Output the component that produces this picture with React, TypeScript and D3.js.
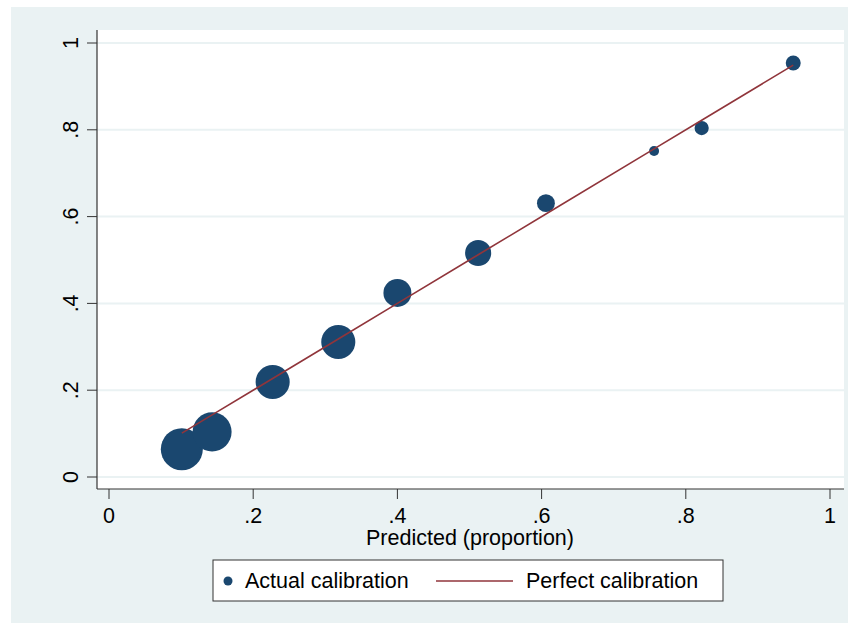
import React from 'react';
import * as d3 from 'd3';

// calibration groups (deciles)
const predicted = [0.101, 0.143, 0.227, 0.318, 0.4, 0.512, 0.606, 0.756, 0.822, 0.949];
const observed = [0.064, 0.104, 0.219, 0.311, 0.424, 0.516, 0.631, 0.751, 0.804, 0.954];
const groupSize = [440, 380, 290, 290, 195, 170, 80, 25, 50, 56];

const xTicks = [0, 0.2, 0.4, 0.6, 0.8, 1];
const yTicks = [0, 0.2, 0.4, 0.6, 0.8, 1];
const fmt = (v: number) => (v === 0 ? '0' : v === 1 ? '1' : String(v).replace(/^0/, ''));

const W = 849;
const H = 623;
const plot = { left: 97, right: 844, top: 30, bottom: 489 };
const navy = '#1a476f';
const cranberry = '#90353b';
const bg = '#eaf2f3';
const font = '"Liberation Sans", Arial, sans-serif';
const fs = 21.5;

export default function App() {
  const x = d3.scaleLinear().domain([0, 1]).range([109, 830]);
  const y = d3.scaleLinear().domain([0, 1]).range([477, 43]);
  const r = d3.scaleSqrt().domain([0, 440]).range([0, 21]);

  const pts = predicted.map((p, i) => ({ p, o: observed[i], n: groupSize[i] }));
  const line = d3.line<{ p: number }>()
    .x(d => x(d.p))
    .y(d => y(d.p));

  return (
    <svg width={W} height={H} style={{ position: 'absolute', left: 0, top: 0, fontFamily: font }}>
      <rect x={0} y={0} width={W} height={H} fill="#ffffff" />
      <rect x={11} y={7} width={W - 12} height={H - 7} fill={bg} />
      <rect x={plot.left} y={plot.top} width={plot.right - plot.left} height={plot.bottom - plot.top} fill="#ffffff" />

      {/* gridlines */}
      {yTicks.map(t => (
        <line key={`g-${t}`} x1={plot.left} x2={plot.right} y1={y(t)} y2={y(t)} stroke={bg} strokeWidth={2} />
      ))}

      {/* markers, biggest first */}
      {[...pts].sort((a, b) => b.n - a.n).map((d, i) => (
        <circle key={i} cx={x(d.p)} cy={y(d.o)} r={r(d.n)} fill={navy} />
      ))}

      {/* perfect calibration */}
      <path d={line(pts) || ''} fill="none" stroke={cranberry} strokeWidth={1.6} />

      {/* axes */}
      <line x1={plot.left} x2={plot.left} y1={plot.top} y2={plot.bottom} stroke="#333" strokeWidth={1.2} />
      <line x1={plot.left} x2={plot.right} y1={plot.bottom} y2={plot.bottom} stroke="#333" strokeWidth={1.2} />

      {yTicks.map(t => (
        <g key={`y-${t}`}>
          <line x1={plot.left - 10} x2={plot.left} y1={y(t)} y2={y(t)} stroke="#333" strokeWidth={1} />
          <text transform={`translate(78, ${y(t)}) rotate(-90)`} textAnchor="middle" fontSize={fs} fill="#000">
            {fmt(t)}
          </text>
        </g>
      ))}
      {xTicks.map(t => (
        <g key={`x-${t}`}>
          <line x1={x(t)} x2={x(t)} y1={plot.bottom} y2={plot.bottom + 10} stroke="#333" strokeWidth={1} />
          <text x={x(t)} y={523} textAnchor="middle" fontSize={fs} fill="#000">
            {fmt(t)}
          </text>
        </g>
      ))}
      <text x={470} y={545} textAnchor="middle" fontSize={fs} fill="#000">Predicted (proportion)</text>

      {/* legend */}
      <g>
        <rect x={213} y={560} width={510} height={41} fill="#ffffff" stroke="#333" strokeWidth={1} />
        <circle cx={228} cy={581} r={4.5} fill={navy} />
        <text x={245} y={588} fontSize={fs} fill="#000">Actual calibration</text>
        <line x1={436} x2={513} y1={581} y2={581} stroke={cranberry} strokeWidth={1.6} />
        <text x={526} y={588} fontSize={fs} fill="#000">Perfect calibration</text>
      </g>
    </svg>
  );
}
